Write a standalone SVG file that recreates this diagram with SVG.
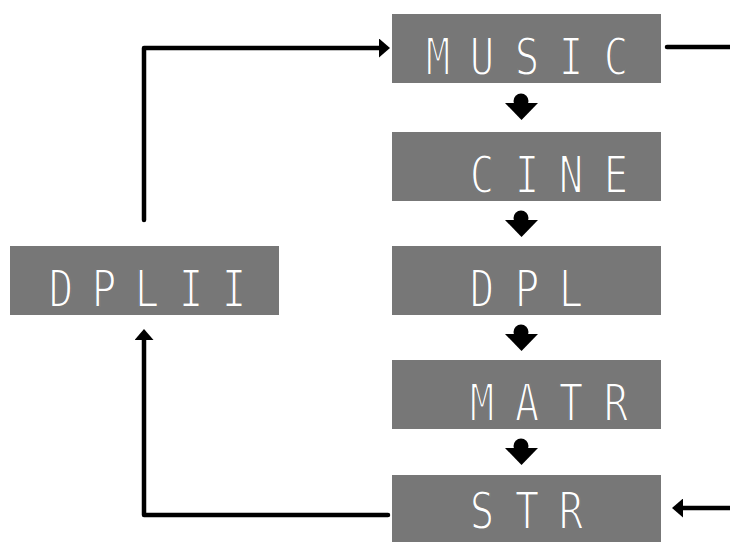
<svg xmlns="http://www.w3.org/2000/svg" width="730" height="542" viewBox="0 0 730 542">
<style>
.box{fill:#777777}
.lcd{font-family:"DejaVu Sans Mono","Liberation Mono",monospace;font-size:51px;fill:#ffffff;stroke:#777777;stroke-width:1.8px;text-anchor:middle}
.conn{fill:none;stroke:#000;stroke-width:4.5;stroke-linecap:round;stroke-linejoin:round}
.dn{fill:#000}
</style>
<defs>
<marker id="ah" viewBox="0 0 11 19" refX="0" refY="9.5" markerWidth="11" markerHeight="19" markerUnits="userSpaceOnUse" orient="auto">
<path d="M0,0 L11,9.5 L0,19 Z" fill="#000"/>
</marker>
<g id="down">
<circle cx="0" cy="8" r="7.5"/>
<polygon points="-16,10 17,10 0.5,27"/>
</g>
</defs>
<rect width="730" height="542" fill="#ffffff"/>
<g id="connectors">
<path class="conn" d="M144,220 V48 H379" marker-end="url(#ah)"/>
<path class="conn" d="M388,515 H144 V340" marker-end="url(#ah)"/>
<path class="conn" d="M667,47 H730"/>
<path class="conn" d="M730,508 H683" marker-end="url(#ah)"/>
<use href="#down" class="dn" x="521" y="93"/>
<use href="#down" class="dn" x="521" y="210"/>
<use href="#down" class="dn" x="521" y="324"/>
<use href="#down" class="dn" x="521" y="438"/>
</g>
<g id="node-music">
<rect class="box" x="392" y="14" width="269" height="69"/>
<text class="lcd" transform="scale(0.8 1)" x="547.5 602.5 658.75 713.75 770" y="75">MUSIC</text>
</g>
<g id="node-cine">
<rect class="box" x="392" y="132" width="269" height="69"/>
<text class="lcd" transform="scale(0.8 1)" x="602.5 658.75 713.75 770" y="193">CINE</text>
</g>
<g id="node-dpl">
<rect class="box" x="392" y="246" width="269" height="69"/>
<text class="lcd" transform="scale(0.8 1)" x="602.5 658.75 713.75" y="307">DPL</text>
</g>
<g id="node-matr">
<rect class="box" x="392" y="360" width="269" height="69"/>
<text class="lcd" transform="scale(0.8 1)" x="602.5 658.75 713.75 770" y="421">MATR</text>
</g>
<g id="node-str">
<rect class="box" x="392" y="475" width="269" height="69"/>
<text class="lcd" transform="scale(0.8 1)" x="602.5 658.75 713.75" y="529">STR</text>
</g>
<g id="node-dplii">
<rect class="box" x="10" y="246" width="269" height="69"/>
<text class="lcd" transform="scale(0.8 1)" x="76.25 130 183.75 238.75 292.5" y="307">DPLII</text>
</g>
</svg>
